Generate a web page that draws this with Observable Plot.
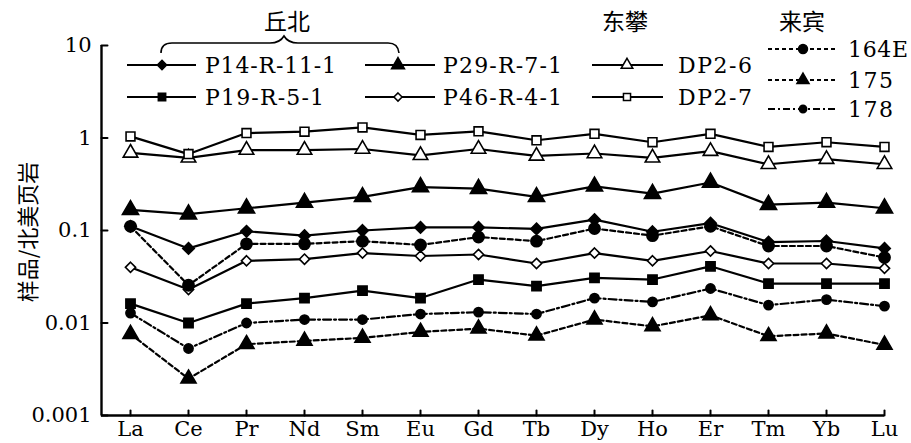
<!DOCTYPE html>
<html><head><meta charset="utf-8">
<script src="https://cdn.jsdelivr.net/npm/d3@7"></script>
<script src="https://cdn.jsdelivr.net/npm/@observablehq/plot@0.6"></script>
<style>
body{margin:0;background:#fff}
#wrap{position:relative;width:911px;height:443px}
#overlay{position:absolute;left:0;top:0;pointer-events:none}
</style>
</head><body><div id="wrap"></div>
<script>
// ---- data ----
const elements = ["La","Ce","Pr","Nd","Sm","Eu","Gd","Tb","Dy","Ho","Er","Tm","Yb","Lu"];
const yTicks = [0.001, 0.01, 0.1, 1, 10];
const yTickLabels = ["0.001", "0.01", "0.1", "1", "10"];

const P14_R_11_1 = [0.111, 0.064, 0.098, 0.088, 0.100, 0.108, 0.108, 0.104, 0.131, 0.097, 0.120, 0.075, 0.077, 0.064];
const P19_R_5_1  = [0.0162, 0.0100, 0.0162, 0.0186, 0.0224, 0.0186, 0.0295, 0.0250, 0.0307, 0.0295, 0.0410, 0.0267, 0.0267, 0.0267];
const P29_R_7_1  = [0.167, 0.150, 0.174, 0.200, 0.231, 0.295, 0.283, 0.231, 0.300, 0.250, 0.330, 0.190, 0.200, 0.174];
const P46_R_4_1  = [0.040, 0.023, 0.047, 0.049, 0.057, 0.053, 0.055, 0.044, 0.057, 0.047, 0.060, 0.044, 0.044, 0.039];
const DP2_6      = [0.69, 0.61, 0.74, 0.74, 0.76, 0.65, 0.76, 0.64, 0.68, 0.61, 0.72, 0.52, 0.59, 0.52];
const DP2_7      = [1.04, 0.67, 1.13, 1.17, 1.30, 1.08, 1.18, 0.945, 1.11, 0.90, 1.11, 0.80, 0.90, 0.80];
const S164E      = [0.111, 0.0256, 0.0717, 0.0717, 0.0767, 0.0697, 0.085, 0.0767, 0.105, 0.088, 0.111, 0.068, 0.068, 0.051];
const S175       = [0.0076, 0.0025, 0.0059, 0.0064, 0.0069, 0.0080, 0.0087, 0.0073, 0.0109, 0.0092, 0.0121, 0.0072, 0.0077, 0.0058];
const S178       = [0.0128, 0.0053, 0.0100, 0.0109, 0.0109, 0.0125, 0.0131, 0.0125, 0.0186, 0.0169, 0.0236, 0.0156, 0.0179, 0.0152];

const seriesNames  = ["P14-R-11-1", "P19-R-5-1", "P29-R-7-1", "P46-R-4-1", "DP2-6", "DP2-7", "164E", "175", "178"];
const seriesValues = [P14_R_11_1, P19_R_5_1, P29_R_7_1, P46_R_4_1, DP2_6, DP2_7, S164E, S175, S178];
const groupNames = ["丘北", "东攀", "来宾"];
const yLabel = "样品/北美页岩";

// ---- styles ----
const styles = {
  "P14-R-11-1": {symbol: "diamond2", fill: "black", r: 5.2, dash: null},
  "P19-R-5-1":  {symbol: "square",   fill: "black", r: 5.2, dash: null},
  "P29-R-7-1":  {symbol: "triangle", fill: "black", r: 6.0, dash: null},
  "P46-R-4-1":  {symbol: "diamond2", fill: "white", r: 4.6, dash: null},
  "DP2-6":      {symbol: "triangle", fill: "white", r: 5.4, dash: null},
  "DP2-7":      {symbol: "square",   fill: "white", r: 5.0, dash: null},
  "164E":       {symbol: "circle",   fill: "black", r: 5.6, dash: "5,3"},
  "175":        {symbol: "triangle", fill: "black", r: 5.6, dash: "5,3"},
  "178":        {symbol: "circle",   fill: "black", r: 4.6, dash: "8,3,2,3"}
};

const rows = seriesNames.flatMap((name, s) => seriesValues[s].map((v, i) => ({series: name, i, el: elements[i], v})));

const marks = [];
for (const name of seriesNames) {
  const st = styles[name];
  const data = rows.filter(d => d.series === name);
  marks.push(Plot.line(data, {x: "i", y: "v", stroke: "black", strokeWidth: 2.2, strokeDasharray: st.dash ?? undefined}));
  marks.push(Plot.dot(data, {x: "i", y: "v", symbol: st.symbol, r: st.r, fill: st.fill, stroke: "black", strokeWidth: 1.6}));
}

const tickShape = {draw(ctx, l) { ctx.moveTo(0, 0); ctx.lineTo(0, -l); }};

const chart = Plot.plot({
  width: 911, height: 443,
  marginLeft: 101, marginRight: 27, marginTop: 45, marginBottom: 28,
  style: {fontFamily: "DejaVu Serif", fontSize: "21px", color: "black", background: "white"},
  x: {type: "linear", domain: [-0.5, 13], label: null},
  y: {type: "log", domain: [0.001, 10], label: null},
  marks: [
    Plot.axisX(d3.range(elements.length), {tickFormat: i => elements[i], tickSize: 0, tickPadding: 6, fontSize: 21}),
    Plot.axisY(yTicks, {tickFormat: d => yTickLabels[yTicks.indexOf(d)], tickSize: 0, tickPadding: 10, fontSize: 21}),
    Plot.vector(d3.range(elements.length), {x: d => d, frameAnchor: "bottom", rotate: 0, length: 5, anchor: "start", shape: tickShape, stroke: "black", strokeWidth: 2}),
    Plot.vector(yTicks, {y: d => d, frameAnchor: "left", rotate: 90, length: 6, anchor: "start", shape: tickShape, stroke: "black", strokeWidth: 2}),
    Plot.ruleX([-0.5], {strokeWidth: 2.4}),
    Plot.ruleY([0.001], {strokeWidth: 2.4}),
    ...marks
  ]
});
const wrap = document.getElementById("wrap");
wrap.appendChild(chart);

// ---- legend overlay ----
const ov = d3.select(wrap).append("svg").attr("id", "overlay").attr("width", 911).attr("height", 443);
const symMap = {diamond2: d3.symbolDiamond2, square: d3.symbolSquare, triangle: d3.symbolTriangle, circle: d3.symbolCircle};
const legendItems = [
  {name: "P14-R-11-1", x0: 127, x1: 196, mx: 162, tx: 205, y: 65, w: 131},
  {name: "P29-R-7-1",  x0: 365, x1: 435, mx: 398, tx: 443, y: 65, w: 119},
  {name: "DP2-6",      x0: 592, x1: 663, mx: 627, tx: 678, y: 65, w: 74},
  {name: "P19-R-5-1",  x0: 127, x1: 196, mx: 162, tx: 205, y: 97, w: 119},
  {name: "P46-R-4-1",  x0: 365, x1: 435, mx: 398, tx: 443, y: 97, w: 119},
  {name: "DP2-7",      x0: 592, x1: 663, mx: 627, tx: 678, y: 97, w: 74},
  {name: "164E",       x0: 768, x1: 837, mx: 803, tx: 848, y: 49, w: 60},
  {name: "175",        x0: 768, x1: 837, mx: 803, tx: 848, y: 80, w: 45},
  {name: "178",        x0: 768, x1: 837, mx: 803, tx: 848, y: 109, w: 45}
];
for (const it of legendItems) {
  const st = styles[it.name];
  ov.append("line").attr("x1", it.x0).attr("x2", it.x1).attr("y1", it.y).attr("y2", it.y)
    .attr("stroke", "black").attr("stroke-width", 2.2).attr("stroke-dasharray", st.dash ? (st.dash === "8,3,2,3" ? "7,3,2,3" : "4,3") : null);
  const rr = st.r * 0.8;
  ov.append("path").attr("transform", `translate(${it.mx},${it.y})`)
    .attr("d", d3.symbol(symMap[st.symbol], Math.PI * rr * rr)())
    .attr("fill", st.fill).attr("stroke", "black").attr("stroke-width", 1.5);
  ov.append("text").attr("x", it.tx).attr("y", it.y).attr("dy", "0.36em")
    .attr("font-family", "DejaVu Serif").attr("font-size", 22)
    .attr("textLength", it.w).attr("lengthAdjust", "spacing").text(it.name);
}
// group titles
const groupPos = [{x: 287, y: 22}, {x: 625, y: 22}, {x: 802, y: 22}];
groupNames.forEach((g, k) => {
  ov.append("text").attr("x", groupPos[k].x).attr("y", groupPos[k].y).attr("dy", "0.36em")
    .attr("text-anchor", "middle").attr("font-family", "Noto Sans CJK SC").attr("font-size", 23).text(g);
});
// brace
ov.append("path")
  .attr("d", "M161,53 Q161,43 172,43 L270,43 Q280,43 284,36 Q288,43 298,43 L388,43 Q398,43 399,53")
  .attr("fill", "none").attr("stroke", "black").attr("stroke-width", 1.6);
// y label
ov.append("text").attr("transform", "translate(28,232) rotate(-90)").attr("dy", "0.36em")
  .attr("text-anchor", "middle").attr("font-family", "Noto Sans CJK SC").attr("font-size", 22).text(yLabel);
</script>
</body></html>
